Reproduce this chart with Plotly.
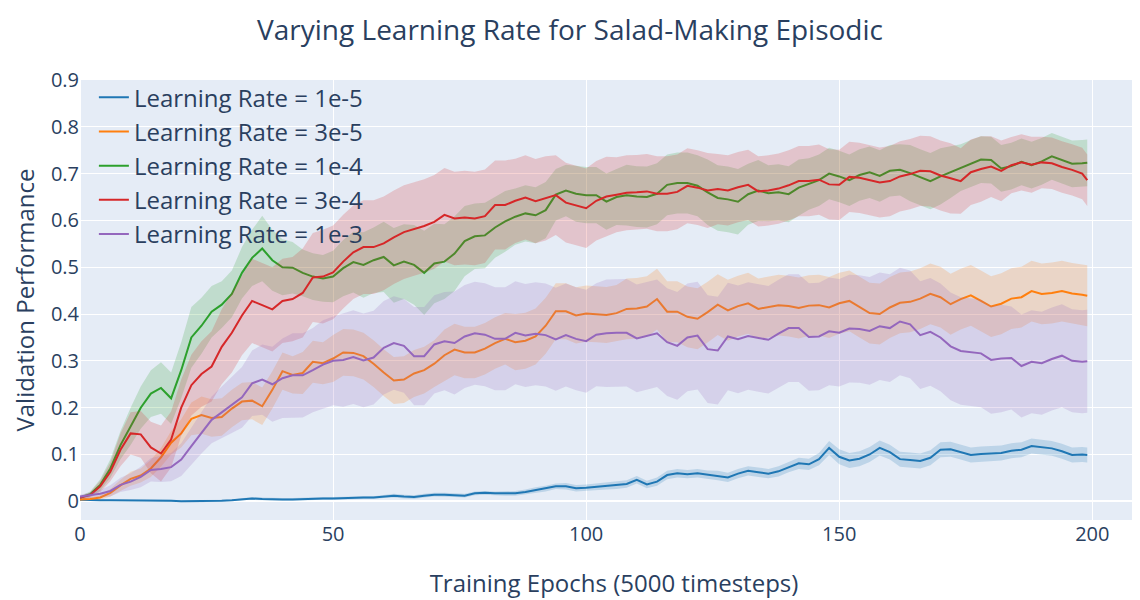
import plotly.graph_objects as go

EPOCHS = list(range(0, 200, 2)) + [199]

SERIES_NAMES = ["Learning Rate = 1e-5", "Learning Rate = 3e-5", "Learning Rate = 1e-4",
                "Learning Rate = 3e-4", "Learning Rate = 1e-3"]

LR_1E5 = [0.003, 0.002, 0.002, 0.002, 0.002, 0.002, 0.002, 0.002, 0.001, 0.001,
          0.0, 0.0, 0.0, 0.0, 0.001, 0.002, 0.004, 0.006, 0.005, 0.004,
          0.004, 0.004, 0.005, 0.005, 0.006, 0.006, 0.007, 0.007, 0.008, 0.008,
          0.01, 0.012, 0.01, 0.009, 0.012, 0.014, 0.014, 0.013, 0.012, 0.017,
          0.018, 0.017, 0.017, 0.017, 0.02, 0.024, 0.027, 0.032, 0.032, 0.028,
          0.029, 0.031, 0.033, 0.034, 0.037, 0.046, 0.036, 0.042, 0.056, 0.06,
          0.058, 0.06, 0.057, 0.055, 0.051, 0.059, 0.065, 0.062, 0.059, 0.064,
          0.073, 0.081, 0.079, 0.09, 0.114, 0.095, 0.087, 0.091, 0.1, 0.114,
          0.105, 0.09, 0.088, 0.086, 0.093, 0.11, 0.111, 0.105, 0.099, 0.101,
          0.102, 0.103, 0.108, 0.11, 0.118, 0.115, 0.113, 0.107, 0.099, 0.1,
          0.099]
LR_1E5_SD = [0.002, 0.002, 0.002, 0.002, 0.002, 0.002, 0.002, 0.002, 0.002, 0.002,
             0.002, 0.002, 0.002, 0.002, 0.002, 0.002, 0.002, 0.003, 0.003, 0.003,
             0.003, 0.003, 0.003, 0.003, 0.003, 0.003, 0.003, 0.003, 0.003, 0.003,
             0.003, 0.004, 0.004, 0.004, 0.004, 0.004, 0.004, 0.004, 0.004, 0.004,
             0.004, 0.004, 0.005, 0.005, 0.005, 0.006, 0.006, 0.006, 0.007, 0.007,
             0.007, 0.007, 0.008, 0.008, 0.008, 0.008, 0.008, 0.009, 0.009, 0.009,
             0.009, 0.009, 0.009, 0.01, 0.01, 0.01, 0.01, 0.01, 0.01, 0.011,
             0.011, 0.012, 0.012, 0.013, 0.015, 0.016, 0.016, 0.016, 0.016, 0.016,
             0.016, 0.016, 0.016, 0.016, 0.016, 0.016, 0.016, 0.016, 0.016, 0.016,
             0.016, 0.016, 0.016, 0.016, 0.016, 0.016, 0.016, 0.016, 0.016, 0.016,
             0.016]

LR_3E5 = [0.004, 0.005, 0.008, 0.018, 0.034, 0.048, 0.055, 0.07, 0.094, 0.125,
          0.145, 0.176, 0.184, 0.178, 0.18, 0.198, 0.213, 0.215, 0.203, 0.238,
          0.278, 0.27, 0.274, 0.298, 0.295, 0.305, 0.318, 0.317, 0.31, 0.294,
          0.275, 0.258, 0.26, 0.273, 0.28, 0.294, 0.312, 0.324, 0.318, 0.318,
          0.326, 0.338, 0.347, 0.34, 0.343, 0.352, 0.375, 0.406, 0.406, 0.397,
          0.401, 0.4, 0.398, 0.402, 0.411, 0.412, 0.416, 0.432, 0.405, 0.405,
          0.394, 0.39, 0.404, 0.42, 0.408, 0.417, 0.423, 0.411, 0.415, 0.419,
          0.417, 0.413, 0.418, 0.419, 0.414, 0.423, 0.428, 0.415, 0.402, 0.4,
          0.414, 0.424, 0.426, 0.433, 0.443, 0.436, 0.421, 0.432, 0.44, 0.428,
          0.416, 0.422, 0.433, 0.436, 0.449, 0.443, 0.445, 0.449, 0.444, 0.441,
          0.439]
LR_3E5_SD = [0.002, 0.003, 0.005, 0.008, 0.012, 0.015, 0.015, 0.018, 0.02, 0.025,
             0.03, 0.035, 0.04, 0.04, 0.04, 0.04, 0.04, 0.04, 0.04, 0.04,
             0.04, 0.04, 0.045, 0.045, 0.045, 0.05, 0.05, 0.05, 0.05, 0.05,
             0.05, 0.05, 0.05, 0.05, 0.05, 0.05, 0.055, 0.055, 0.055, 0.055,
             0.055, 0.055, 0.055, 0.06, 0.06, 0.06, 0.06, 0.06, 0.06, 0.06,
             0.06, 0.06, 0.06, 0.06, 0.065, 0.065, 0.065, 0.065, 0.065, 0.065,
             0.065, 0.065, 0.065, 0.065, 0.065, 0.065, 0.065, 0.065, 0.065, 0.065,
             0.065, 0.065, 0.065, 0.065, 0.065, 0.065, 0.065, 0.065, 0.065, 0.065,
             0.065, 0.065, 0.065, 0.065, 0.065, 0.065, 0.065, 0.065, 0.065, 0.065,
             0.065, 0.065, 0.065, 0.065, 0.065, 0.065, 0.065, 0.065, 0.065, 0.065,
             0.065]

LR_1E4 = [0.008, 0.015, 0.035, 0.07, 0.12, 0.16, 0.2, 0.23, 0.242, 0.22,
          0.28, 0.35, 0.375, 0.405, 0.42, 0.443, 0.488, 0.52, 0.54, 0.515,
          0.5, 0.499, 0.488, 0.48, 0.476, 0.48, 0.498, 0.511, 0.505, 0.515,
          0.522, 0.504, 0.512, 0.505, 0.488, 0.508, 0.512, 0.529, 0.556, 0.566,
          0.568, 0.585, 0.598, 0.608, 0.615, 0.611, 0.622, 0.655, 0.664, 0.657,
          0.654, 0.654, 0.64, 0.65, 0.654, 0.651, 0.65, 0.657, 0.676, 0.68,
          0.68, 0.674, 0.66, 0.648, 0.645, 0.64, 0.656, 0.664, 0.658, 0.66,
          0.656, 0.67, 0.678, 0.686, 0.7, 0.694, 0.686, 0.697, 0.703, 0.695,
          0.706, 0.708, 0.701, 0.692, 0.684, 0.694, 0.703, 0.713, 0.722, 0.73,
          0.729, 0.711, 0.716, 0.725, 0.718, 0.726, 0.737, 0.729, 0.721, 0.722,
          0.723]
LR_1E4_SD = [0.003, 0.006, 0.012, 0.02, 0.03, 0.04, 0.045, 0.05, 0.055, 0.055,
             0.06, 0.065, 0.06, 0.055, 0.05, 0.05, 0.055, 0.06, 0.07, 0.065,
             0.06, 0.055, 0.05, 0.05, 0.05, 0.055, 0.06, 0.065, 0.07, 0.07,
             0.075, 0.08, 0.08, 0.085, 0.09, 0.085, 0.08, 0.08, 0.075, 0.07,
             0.07, 0.065, 0.065, 0.06, 0.06, 0.06, 0.06, 0.055, 0.055, 0.06,
             0.06, 0.06, 0.06, 0.06, 0.065, 0.065, 0.065, 0.065, 0.065, 0.065,
             0.065, 0.065, 0.07, 0.07, 0.07, 0.07, 0.065, 0.065, 0.06, 0.06,
             0.06, 0.06, 0.055, 0.055, 0.055, 0.055, 0.055, 0.055, 0.055, 0.055,
             0.055, 0.055, 0.06, 0.06, 0.06, 0.06, 0.055, 0.05, 0.05, 0.05,
             0.05, 0.05, 0.05, 0.05, 0.05, 0.05, 0.05, 0.05, 0.05, 0.05,
             0.05]

LR_3E4 = [0.008, 0.013, 0.032, 0.063, 0.11, 0.145, 0.143, 0.115, 0.102, 0.132,
          0.2, 0.248, 0.272, 0.288, 0.33, 0.36, 0.397, 0.428, 0.419, 0.41,
          0.428, 0.432, 0.445, 0.478, 0.48, 0.489, 0.512, 0.532, 0.543, 0.543,
          0.551, 0.564, 0.575, 0.582, 0.588, 0.597, 0.612, 0.604, 0.606, 0.604,
          0.609, 0.633, 0.633, 0.642, 0.649, 0.641, 0.647, 0.654, 0.638, 0.632,
          0.626, 0.642, 0.651, 0.655, 0.659, 0.66, 0.662, 0.657, 0.657, 0.661,
          0.674, 0.67, 0.664, 0.667, 0.664, 0.671, 0.676, 0.662, 0.664, 0.668,
          0.675, 0.684, 0.684, 0.687, 0.677, 0.676, 0.693, 0.691, 0.686, 0.681,
          0.684, 0.694, 0.699, 0.706, 0.705, 0.696, 0.69, 0.684, 0.703, 0.71,
          0.715, 0.706, 0.718, 0.724, 0.719, 0.724, 0.722, 0.714, 0.708, 0.7,
          0.686]
LR_3E4_SD = [0.003, 0.006, 0.012, 0.02, 0.035, 0.045, 0.05, 0.055, 0.06, 0.06,
             0.06, 0.065, 0.07, 0.075, 0.08, 0.085, 0.085, 0.09, 0.09, 0.09,
             0.09, 0.09, 0.095, 0.095, 0.1, 0.1, 0.1, 0.1, 0.1, 0.1,
             0.1, 0.1, 0.1, 0.1, 0.1, 0.1, 0.1, 0.1, 0.1, 0.1,
             0.1, 0.095, 0.095, 0.09, 0.09, 0.09, 0.09, 0.085, 0.085, 0.085,
             0.085, 0.085, 0.085, 0.08, 0.08, 0.08, 0.08, 0.08, 0.08, 0.08,
             0.08, 0.08, 0.08, 0.075, 0.075, 0.075, 0.075, 0.075, 0.075, 0.075,
             0.075, 0.075, 0.075, 0.075, 0.075, 0.075, 0.075, 0.075, 0.075, 0.075,
             0.075, 0.075, 0.075, 0.075, 0.075, 0.075, 0.075, 0.07, 0.07, 0.07,
             0.065, 0.065, 0.06, 0.06, 0.06, 0.055, 0.055, 0.055, 0.055, 0.055,
             0.055]

LR_1E3 = [0.01, 0.013, 0.016, 0.022, 0.035, 0.042, 0.052, 0.067, 0.069, 0.073,
          0.089, 0.118, 0.147, 0.174, 0.19, 0.206, 0.222, 0.252, 0.26, 0.25,
          0.263, 0.269, 0.269, 0.28, 0.292, 0.3, 0.302, 0.308, 0.301, 0.307,
          0.328, 0.338, 0.332, 0.31, 0.31, 0.335, 0.342, 0.338, 0.352, 0.359,
          0.356, 0.347, 0.347, 0.36, 0.354, 0.358, 0.355, 0.346, 0.355, 0.347,
          0.342, 0.356, 0.359, 0.36, 0.36, 0.348, 0.353, 0.359, 0.34, 0.332,
          0.35, 0.354, 0.325, 0.322, 0.352, 0.346, 0.353, 0.349, 0.345, 0.358,
          0.37, 0.37, 0.351, 0.352, 0.363, 0.36, 0.369, 0.368, 0.364, 0.374,
          0.37, 0.384, 0.378, 0.355, 0.362, 0.35, 0.331, 0.321, 0.319, 0.316,
          0.302, 0.305, 0.306, 0.289, 0.298, 0.295, 0.304, 0.311, 0.3, 0.298,
          0.299]
LR_1E3_SD = [0.004, 0.006, 0.008, 0.012, 0.015, 0.018, 0.022, 0.025, 0.028, 0.03,
             0.035, 0.04, 0.045, 0.05, 0.055, 0.06, 0.065, 0.07, 0.075, 0.08,
             0.085, 0.09, 0.09, 0.09, 0.095, 0.095, 0.1, 0.1, 0.1, 0.1,
             0.1, 0.1, 0.1, 0.105, 0.105, 0.105, 0.105, 0.11, 0.11, 0.11,
             0.11, 0.11, 0.11, 0.11, 0.11, 0.11, 0.11, 0.11, 0.11, 0.11,
             0.11, 0.11, 0.115, 0.115, 0.115, 0.115, 0.115, 0.115, 0.115, 0.115,
             0.115, 0.115, 0.115, 0.115, 0.115, 0.115, 0.115, 0.115, 0.115, 0.115,
             0.115, 0.115, 0.115, 0.115, 0.115, 0.115, 0.115, 0.115, 0.115, 0.115,
             0.115, 0.115, 0.115, 0.115, 0.115, 0.115, 0.115, 0.115, 0.115, 0.115,
             0.115, 0.115, 0.11, 0.11, 0.11, 0.11, 0.11, 0.11, 0.11, 0.11,
             0.11]

MEANS = [LR_1E5, LR_3E5, LR_1E4, LR_3E4, LR_1E3]
SDS = [LR_1E5_SD, LR_3E5_SD, LR_1E4_SD, LR_3E4_SD, LR_1E3_SD]
LINE_COLORS = ["#1f77b4", "#ff7f0e", "#2ca02c", "#d62728", "#9467bd"]
FILL_COLORS = ["rgba(31,119,180,0.2)", "rgba(255,127,14,0.2)", "rgba(44,160,44,0.2)",
               "rgba(214,39,40,0.2)", "rgba(148,103,189,0.2)"]

fig = go.Figure()
for name, mean, sd, lc, fc in zip(SERIES_NAMES, MEANS, SDS, LINE_COLORS, FILL_COLORS):
    upper = [m + s for m, s in zip(mean, sd)]
    lower = [m - s for m, s in zip(mean, sd)]
    fig.add_trace(go.Scatter(
        x=EPOCHS + EPOCHS[::-1], y=upper + lower[::-1],
        fill="toself", fillcolor=fc, line=dict(width=0),
        hoverinfo="skip", showlegend=False, mode="lines"))
    fig.add_trace(go.Scatter(
        x=EPOCHS, y=mean, mode="lines", name=name,
        line=dict(color=lc, width=2)))

fig.update_layout(
    width=1140, height=600,
    template="plotly",
    font=dict(family="Open Sans, sans-serif", color="#2a3f5f"),
    title=dict(text="Varying Learning Rate for Salad-Making Episodic",
               xref="container", x=0.493, xanchor="center",
               yref="container", y=0.963, yanchor="middle",
               font=dict(size=28)),
    margin=dict(l=72, r=0, t=72, b=88),
    xaxis=dict(range=[0, 211], automargin=False,
               title=dict(text="Training Epochs (5000 timesteps)", font=dict(size=24), standoff=29),
               tickfont=dict(size=20), tickvals=[0, 50, 100, 150, 200]),
    yaxis=dict(range=[-0.04, 0.9], dtick=0.1, automargin=False,
               title=dict(text="Validation Performance", font=dict(size=24)),
               tickfont=dict(size=20)),
    legend=dict(x=0.013, y=1.011, xanchor="left", yanchor="top",
                bgcolor="rgba(0,0,0,0)", font=dict(size=24)),
)

fig.write_html("out.html")
